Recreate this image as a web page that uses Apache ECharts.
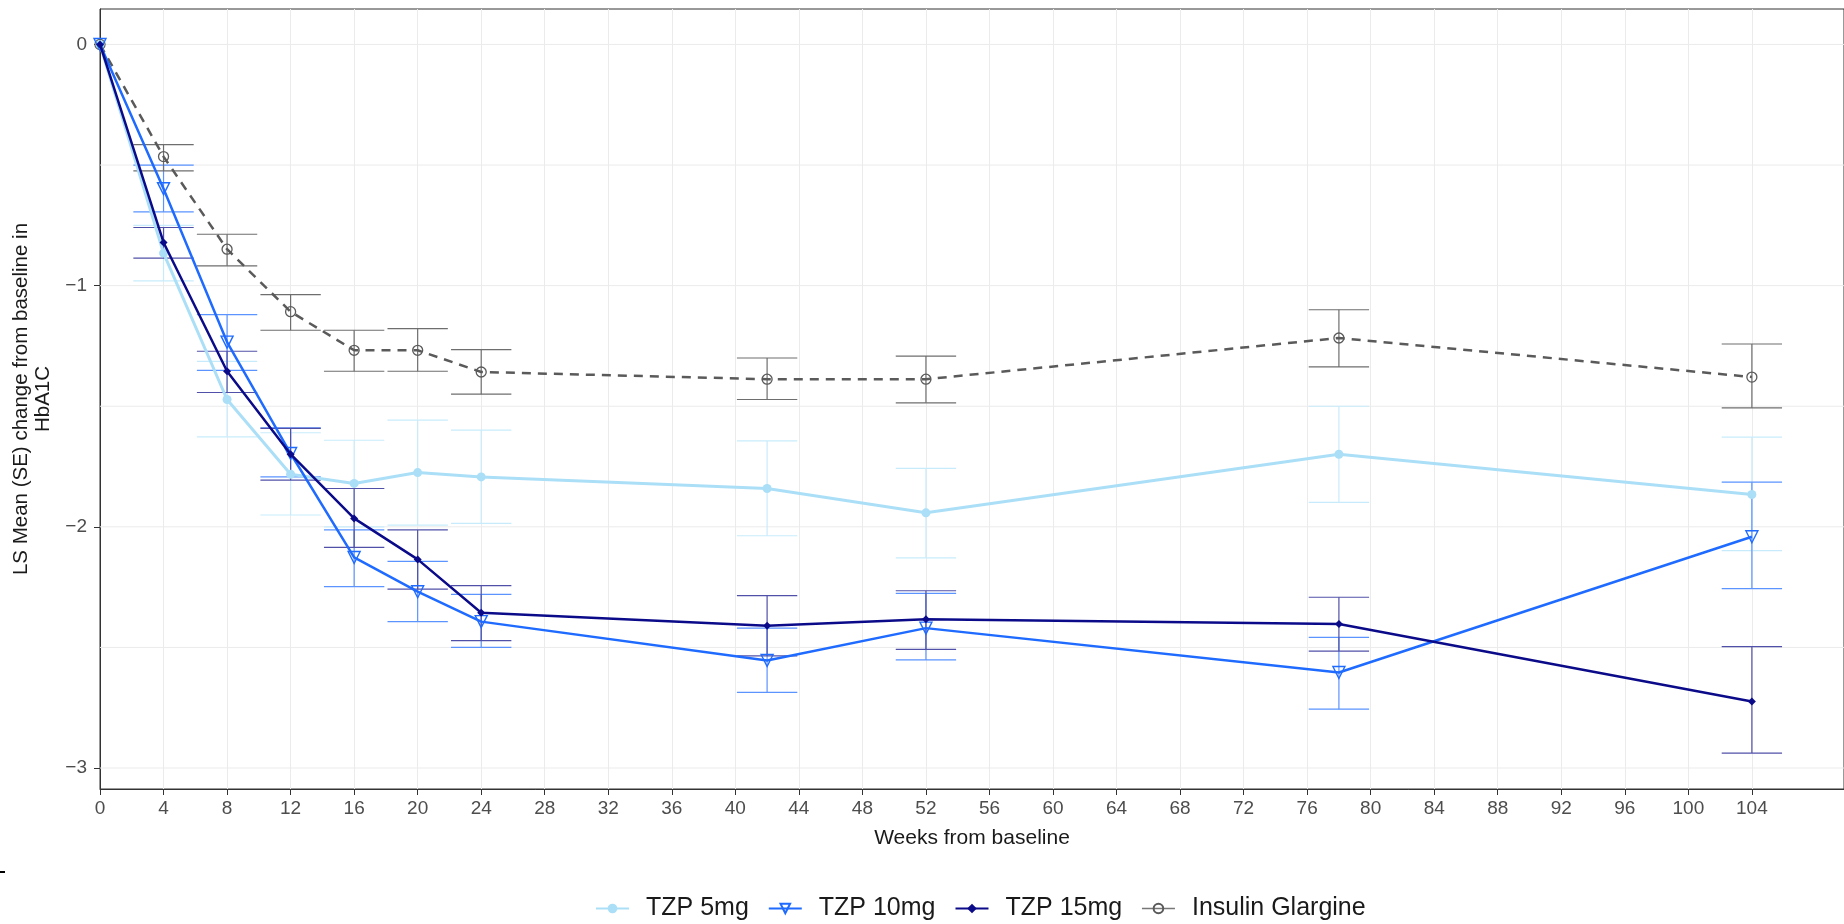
<!DOCTYPE html>
<html>
<head>
<meta charset="utf-8">
<script src="https://cdn.jsdelivr.net/npm/echarts@6/dist/echarts.min.js"></script>
<style>
html,body{margin:0;padding:0;background:#fff;}
#chart{width:1844px;height:924px;}
</style>
</head>
<body>
<div id="chart"></div>
<script>
// ---- data ----
const weeks = [0, 4, 8, 12, 16, 20, 24, 42, 52, 78, 104];

const tzp5   = [0, -0.865, -1.472, -1.782, -1.820, -1.775, -1.793, -1.841, -1.942, -1.699, -1.866];
const tzp5Lo = [0, -0.980, -1.627, -1.951, -2.000, -1.993, -1.986, -2.037, -2.129, -1.899, -2.099];
const tzp5Hi = [0, -0.750, -1.314, -1.610, -1.641, -1.558, -1.599, -1.644, -1.758, -1.500, -1.628];

const tzp10   = [0, -0.598, -1.234, -1.696, -2.127, -2.269, -2.393, -2.554, -2.420, -2.604, -2.041];
const tzp10Lo = [0, -0.694, -1.351, -1.793, -2.248, -2.393, -2.500, -2.686, -2.552, -2.756, -2.256];
const tzp10Hi = [0, -0.500, -1.120, -1.590, -2.013, -2.143, -2.280, -2.420, -2.276, -2.458, -1.815];

const tzp15   = [0, -0.821, -1.355, -1.699, -1.965, -2.135, -2.356, -2.410, -2.383, -2.403, -2.724];
const tzp15Lo = [0, -0.886, -1.443, -1.806, -2.085, -2.258, -2.472, -2.535, -2.508, -2.515, -2.938];
const tzp15Hi = [0, -0.759, -1.272, -1.592, -1.841, -2.013, -2.244, -2.285, -2.265, -2.292, -2.497];

const glar   = [0, -0.465, -0.849, -1.108, -1.268, -1.268, -1.358, -1.388, -1.388, -1.217, -1.379];
const glarLo = [0, -0.524, -0.918, -1.185, -1.355, -1.355, -1.450, -1.472, -1.486, -1.337, -1.507];
const glarHi = [0, -0.415, -0.787, -1.037, -1.185, -1.178, -1.265, -1.300, -1.292, -1.100, -1.242];

const xTickLabels = [0,4,8,12,16,20,24,28,32,36,40,44,48,52,56,60,64,68,72,76,80,84,88,92,96,100,104];
const yTickLabels = [-3, -2, -1, 0];
const yGridValues = [-3, -2.5, -2, -1.5, -1, -0.5, 0];

const seriesNames = ['TZP 5mg', 'TZP 10mg', 'TZP 15mg', 'Insulin Glargine'];

// ---- chart ----
const FONT = "'Liberation Sans', Arial, sans-serif";
const XMIN = 0, XMAX = 109.8, YMIN = -3.087, YMAX = 0.147;

function pts(ys) { return weeks.map((w, i) => [w, ys[i]]); }
function errData(lo, hi) { return weeks.map((w, i) => [w, lo[i], hi[i]]); }

function errRender(color) {
  return function (params, api) {
    const x = api.value(0), lo = api.value(1), hi = api.value(2);
    if (lo === hi) return null;
    const a = api.coord([x, lo]), b = api.coord([x, hi]);
    const hw = api.size([1.9, 0])[0];
    const st = { stroke: color, lineWidth: 1.2 };
    return {
      type: 'group',
      children: [
        { type: 'line', shape: { x1: a[0], y1: a[1], x2: b[0], y2: b[1] }, style: st },
        { type: 'line', shape: { x1: a[0] - hw, y1: a[1], x2: a[0] + hw, y2: a[1] }, style: st },
        { type: 'line', shape: { x1: b[0] - hw, y1: b[1], x2: b[0] + hw, y2: b[1] }, style: st }
      ]
    };
  };
}

const C5 = '#abdff7', C5e = '#c8ebfb';
const C10 = '#1f6bff', C10e = '#5b93ff';
const C15 = '#0b0b8a', C15e = '#5050a8';
const CG = '#5a5a5a', CGe = '#6e6e6e';

const chart = echarts.init(document.getElementById('chart'), null, { renderer: 'canvas' });

const option = {
  animation: false,
  backgroundColor: '#fff',
  textStyle: { fontFamily: FONT },
  grid: { left: 100, top: 9, width: 1744, height: 780, show: true, borderColor: '#333', borderWidth: 1, backgroundColor: 'transparent' },
  xAxis: {
    type: 'value', min: XMIN, max: XMAX, interval: 2,
    name: 'Weeks from baseline', nameLocation: 'middle', nameGap: 39,
    nameTextStyle: { fontSize: 21, color: '#1a1a1a', fontFamily: FONT },
    axisLine: { show: true, onZero: false, lineStyle: { color: '#333', width: 1 } },
    axisTick: { show: true, length: 6, lineStyle: { color: '#333' }, customValues: xTickLabels },
    axisLabel: { customValues: xTickLabels, fontSize: 19, color: '#4d4d4d', margin: 10, fontFamily: FONT },
    splitLine: { show: true, lineStyle: { color: '#ebebeb', width: 1 } }
  },
  yAxis: {
    type: 'value', min: YMIN, max: YMAX,
    name: 'LS Mean (SE) change from baseline in\nHbA1C', nameLocation: 'middle', nameRotate: 90, nameGap: 43,
    nameTextStyle: { fontSize: 20.5, lineHeight: 22, color: '#1a1a1a', align: 'center', fontFamily: FONT },
    axisLine: { show: true, onZero: false, lineStyle: { color: '#333', width: 1 } },
    axisTick: { show: true, length: 6, lineStyle: { color: '#333' }, customValues: yTickLabels },
    axisLabel: {
      customValues: yTickLabels, fontSize: 19, color: '#4d4d4d', margin: 13, fontFamily: FONT,
      formatter: v => (v < 0 ? '\u2212' + Math.abs(v) : String(v))
    },
    splitLine: { show: false }
  },
  legend: {
    left: 590, top: 891, orient: 'horizontal',
    itemWidth: 33, itemHeight: 12, itemGap: 19,
    textStyle: { fontSize: 25, color: '#1a1a1a', fontFamily: FONT, padding: [0, 0, 0, 12] },
    data: [
      { name: 'TZP 5mg' },
      { name: 'TZP 10mg' },
      { name: 'TZP 15mg' },
      { name: 'Insulin Glargine', lineStyle: { type: 'solid', color: '#777', width: 1.5 } }
    ]
  },
  graphic: [
    { type: 'rect', left: 0, top: 871, shape: { width: 5, height: 2 }, style: { fill: '#000' } }
  ],
  series: [
    {
      name: 'hgrid', type: 'custom', silent: true, z: 1,
      data: yGridValues.map(v => [0, v]),
      renderItem: function (params, api) {
        const y = api.value(1);
        const a = api.coord([XMIN, y]), b = api.coord([XMAX, y]);
        return { type: 'line', shape: { x1: a[0], y1: a[1], x2: b[0], y2: b[1] }, style: { stroke: '#ebebeb', lineWidth: 1 } };
      }
    },
    { name: 'e5', type: 'custom', z: 2, silent: true, data: errData(tzp5Lo, tzp5Hi), renderItem: errRender(C5e) },
    { name: 'e10', type: 'custom', z: 2, silent: true, data: errData(tzp10Lo, tzp10Hi), renderItem: errRender(C10e) },
    { name: 'e15', type: 'custom', z: 2, silent: true, data: errData(tzp15Lo, tzp15Hi), renderItem: errRender(C15e) },
    { name: 'eG', type: 'custom', z: 2, silent: true, data: errData(glarLo, glarHi), renderItem: errRender(CGe) },
    {
      name: 'Insulin Glargine', type: 'line', z: 3, data: pts(glar),
      symbol: 'circle', symbolSize: 10, showAllSymbol: true,
      lineStyle: { color: CG, width: 2.5, type: [9, 7] },
      itemStyle: { color: 'rgba(255,255,255,0)', borderColor: CG, borderWidth: 1.3 }
    },
    {
      name: 'TZP 5mg', type: 'line', z: 4, data: pts(tzp5),
      symbol: 'circle', symbolSize: 9, showAllSymbol: true,
      lineStyle: { color: C5, width: 3 },
      itemStyle: { color: C5 }
    },
    {
      name: 'TZP 10mg', type: 'line', z: 5, data: pts(tzp10),
      symbol: 'triangle', symbolRotate: 180, symbolSize: 12, showAllSymbol: true,
      lineStyle: { color: C10, width: 2.5 },
      itemStyle: { color: 'rgba(255,255,255,0)', borderColor: C10, borderWidth: 1.4 }
    },
    {
      name: 'TZP 15mg', type: 'line', z: 6, data: pts(tzp15),
      symbol: 'diamond', symbolSize: 8, showAllSymbol: true,
      lineStyle: { color: C15, width: 2.5 },
      itemStyle: { color: C15 }
    }
  ]
};
chart.setOption(option);
</script>
</body>
</html>
